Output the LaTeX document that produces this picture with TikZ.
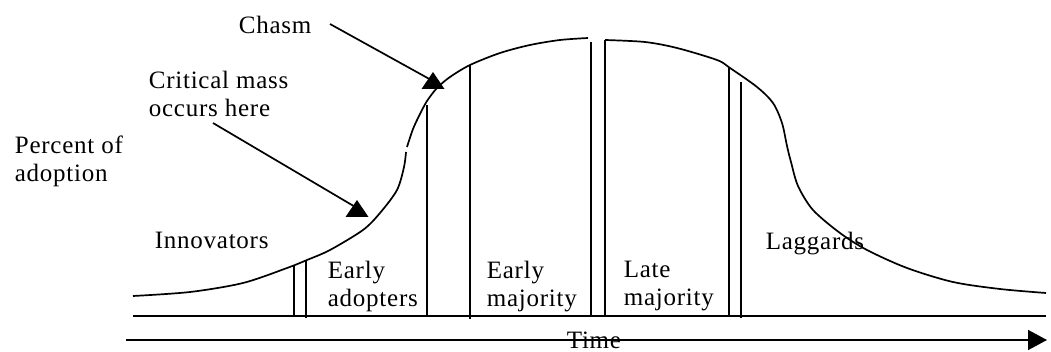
\documentclass[tikz,border=0pt]{standalone}
\usepackage{fontspec}
\setmainfont{Liberation Serif}[LetterSpace=3]
\usetikzlibrary{arrows.meta}

\begin{document}
\begin{tikzpicture}[x=1pt, y=-1pt, line width=1.7pt,
    lbl/.style={inner sep=0pt, align=left, anchor=north west, font=\fontsize{25}{28}\selectfont}]
  \useasboundingbox (0,0) rectangle (1051,352);

  % Adoption curve (drawn in three pieces, as in the sketch)
  \draw plot[smooth, tension=0.5] coordinates {(133,296) (190,292) (243,283) (287,268) (307,260) (330,250) (363,230) (380,213) (397,190) (404,167) (406,152)};
  \draw plot[smooth, tension=0.5] coordinates {(407,147) (413,129) (420,114) (427,101) (437,88) (450,77) (470,65) (500,53) (530,45) (560,40) (588,38)};
  \draw plot[smooth, tension=0.5] coordinates {(605,40) (645,42) (677,48) (717,60) (730,68) (757,87) (773,103) (782,123) (787,146) (791,162) (798,186) (813,210) (840,233) (867,250) (907,268) (953,282) (1000,289) (1046,293)};

  % Dividers between the groups
  \foreach \x/\top/\bot in {294/265/316, 306/260/318, 427/105/316, 470/65/319, 591/42/316, 605/40/316, 729/67/316, 741/82/318} {
    \draw (\x,\top) -- (\x,\bot);
  }

  % Base line and time axis
  \draw (133,316) -- (1046,316);
  \draw[-{Triangle[length=19pt,width=20pt]}] (126,340) -- (1047,340);
  \node[lbl, anchor=base west] (time) at (566,348) {Time};

  % Group names
  \node[lbl] (innov) at (154,231) {Innovators};
  \node[lbl] (earlyad) at (327,260) {Early\\adopters};
  \node[lbl] (earlymaj) at (486,260) {Early\\majority};
  \node[lbl] (latemaj) at (623,260) {Late\\majority};
  \node[lbl] (lagg) at (765,231) {Laggards};

  % Side notes
  \node[lbl] (pct) at (14,135) {Percent of\\adoption};
  \node[lbl] (crit) at (148,70) {Critical mass\\occurs here};
  \node[lbl] (chasm) at (238,15) {Chasm};

  % Pointers
  \coordinate (chasm-from) at (330,24);
  \coordinate (chasm-tip) at (433,81);
  \coordinate (crit-from) at (213,123);
  \coordinate (crit-tip) at (357,208);
  \draw (chasm-from) -- (chasm-tip);
  \draw (crit-from) -- (crit-tip);
  \fill (chasm-tip) ++(0,-9) -- ++(11.5,17) -- ++(-23,0) -- cycle;
  \fill (crit-tip) ++(0,-8) -- ++(11.5,17) -- ++(-23,0) -- cycle;
\end{tikzpicture}
\end{document}
